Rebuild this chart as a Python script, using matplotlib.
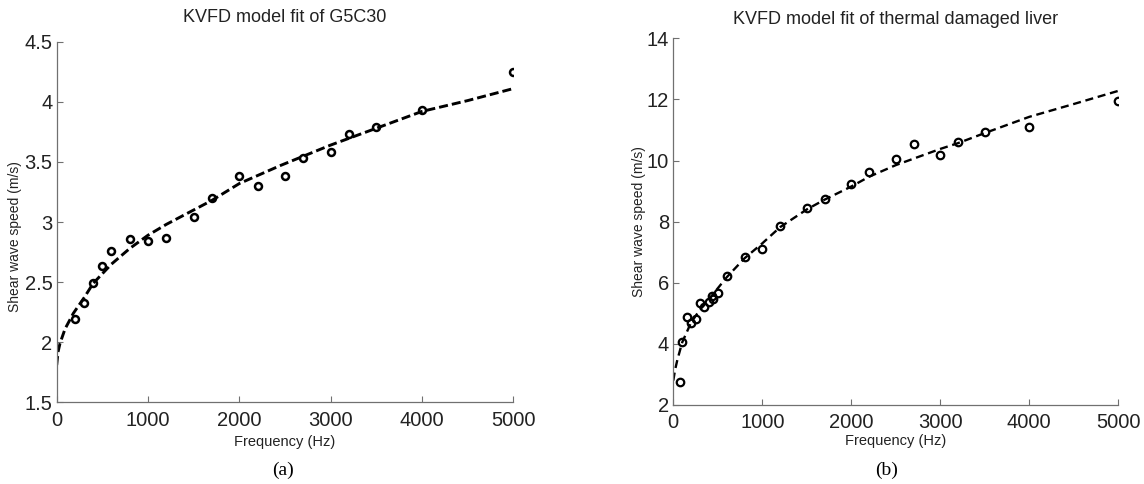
import matplotlib
matplotlib.use("Agg")
import matplotlib.pyplot as plt

# (a) G5C30 measured points and KVFD fit
freq_a = [200, 300, 400, 500, 600, 800, 1000, 1200, 1500, 1700, 2000, 2200,
          2500, 2700, 3000, 3200, 3500, 4000, 5000]
speed_a = [2.19, 2.33, 2.49, 2.63, 2.76, 2.86, 2.84, 2.87, 3.04, 3.20, 3.38, 3.30,
           3.38, 3.53, 3.58, 3.73, 3.79, 3.93, 4.25]
fit_freq_a = [0, 15, 36, 91, 182, 300, 400, 600, 800, 1000, 1200, 1500, 1700,
              2000, 2450, 3000, 3500, 4000, 4500, 5000]
fit_speed_a = [1.81, 1.92, 1.99, 2.11, 2.24, 2.37, 2.49, 2.65, 2.78, 2.89, 2.98, 3.10, 3.18,
               3.32, 3.47, 3.64, 3.78, 3.92, 4.01, 4.11]

# (b) thermal damaged liver measured points and KVFD fit
freq_b = [75, 100, 150, 200, 250, 300, 350, 400, 430, 450, 500, 600, 800, 1000,
          1200, 1500, 1700, 2000, 2200, 2500, 2700, 3000, 3200, 3500, 4000, 5000]
speed_b = [2.74, 4.05, 4.87, 4.68, 4.82, 5.35, 5.21, 5.36, 5.58, 5.46, 5.68, 6.23, 6.85, 7.10,
           7.86, 8.44, 8.73, 9.22, 9.64, 10.04, 10.53, 10.18, 10.62, 10.92, 11.11, 11.96]
fit_freq_b = [0, 20, 45, 100, 200, 300, 400, 500, 600, 800, 1000, 1200, 1500, 1700,
              2000, 2200, 2500, 3000, 3200, 3500, 4000, 4500, 5000]
fit_speed_b = [2.80, 3.15, 3.47, 4.05, 4.70, 5.12, 5.46, 5.82, 6.18, 6.80, 7.29, 7.82, 8.40, 8.72,
               9.15, 9.47, 9.85, 10.38, 10.57, 10.90, 11.43, 11.85, 12.28]

plt.rcParams['font.family'] = ['Liberation Sans', 'DejaVu Sans']
plt.rcParams['lines.scale_dashes'] = False
tick_font = ['Liberation Sans Narrow', 'Liberation Sans', 'DejaVu Sans']
W, H = 1144, 484

fig = plt.figure(figsize=(W / 100, H / 100), dpi=100)

def px_axes(x0, x1, ytop, ybot):
    return fig.add_axes([x0 / W, 1 - ybot / H, (x1 - x0) / W, (ybot - ytop) / H])

def style(ax, ylim, yticks, yticklabels, ylab_xy, xlabpad):
    ax.set_xlim(0, 5000)
    ax.set_ylim(*ylim)
    ax.set_xticks([0, 1000, 2000, 3000, 4000, 5000])
    ax.set_yticks(yticks)
    ax.set_yticklabels(yticklabels)
    for s in ['top', 'right']:
        ax.spines[s].set_visible(False)
    for s in ['left', 'bottom']:
        ax.spines[s].set_color('#707070')
        ax.spines[s].set_linewidth(0.9)
    ax.tick_params(direction='in', length=4, width=0.8, color='#707070',
                   labelcolor='#222222', labelsize=14.5)
    ax.tick_params(axis='x', pad=6)
    ax.tick_params(axis='y', pad=3)
    for lab in ax.get_xticklabels() + ax.get_yticklabels():
        lab.set_family(tick_font)
    ax.set_xlabel('Frequency (Hz)', fontsize=10.5, color='#222222', labelpad=xlabpad)
    ax.set_ylabel('Shear wave speed (m/s)', fontsize=10, color='#222222')
    ax.yaxis.set_label_coords(*ylab_xy)

ax1 = px_axes(56.7, 513.3, 41.7, 402.3)
ax1.plot(fit_freq_a, fit_speed_a, color='black', lw=2.1, dashes=(6.5, 2.9), zorder=2)
ax1.plot(freq_a, speed_a, 'o', mfc='none', mec='black', ms=5.0, mew=1.8, zorder=3)
style(ax1, (1.5, 4.5), [1.5, 2, 2.5, 3, 3.5, 4, 4.5],
      ['1.5', '2', '2.5', '3', '3.5', '4', '4.5'], (-0.076, 0.46), 4)
ax1.set_title('KVFD model fit of G5C30', fontsize=13, color='#222222', pad=14)

ax2 = px_axes(673.3, 1118.3, 38.3, 405)
ax2.plot(fit_freq_b, fit_speed_b, color='black', lw=1.7, dashes=(5.8, 3.4), zorder=2)
ax2.plot(freq_b, speed_b, 'o', mfc='none', mec='black', ms=5.4, mew=1.6, zorder=3)
style(ax2, (2, 14), [2, 4, 6, 8, 10, 12, 14],
      ['2', '4', '6', '8', '10', '12', '14'], (-0.061, 0.5), 1)
ax2.set_title('KVFD model fit of thermal damaged liver', fontsize=13, color='#222222', pad=10)

fig.text(283 / W, 1 - 470 / H, '(a)', ha='center', va='center',
         fontsize=14, family='Liberation Serif')
fig.text(887 / W, 1 - 470 / H, '(b)', ha='center', va='center',
         fontsize=14, family='Liberation Serif')

fig.savefig('out.png', dpi=100)
